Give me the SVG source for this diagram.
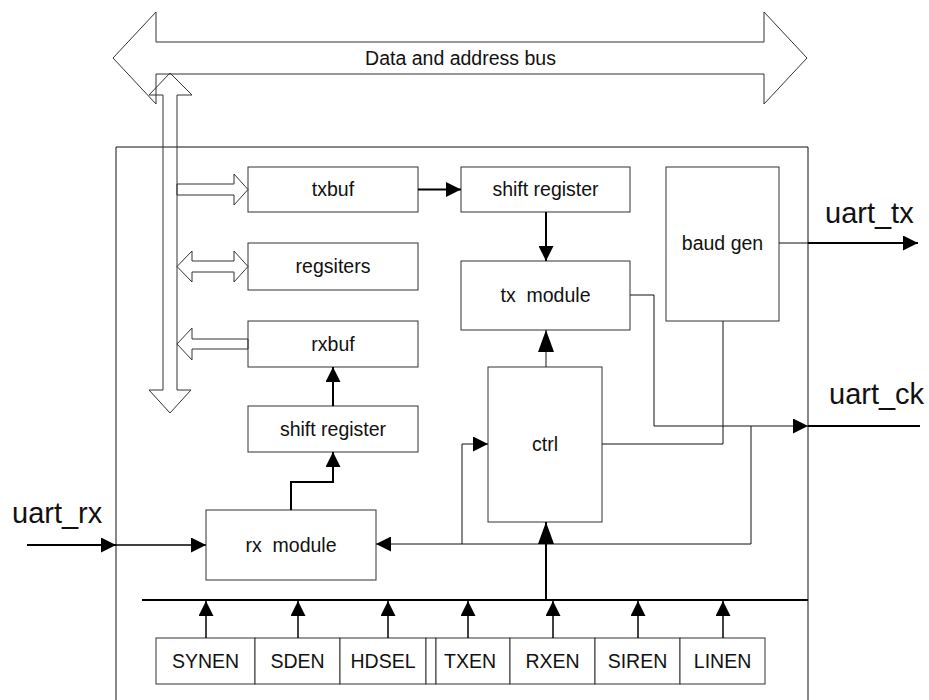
<svg xmlns="http://www.w3.org/2000/svg" width="929" height="700" viewBox="0 0 929 700">
<style>
  .box { fill: #fff; stroke: #333; stroke-width: 1; }
  .lbl { font-family: "Liberation Sans", Arial, sans-serif; font-size: 19.5px; fill: #111; text-anchor: middle; }
  .big { font-family: "Liberation Sans", Arial, sans-serif; font-size: 29px; fill: #111; }
  .hollow { fill: none; stroke: #333; stroke-width: 1; }
  .thin { fill: none; stroke: #111; stroke-width: 1; }
  .mid { fill: none; stroke: #000; stroke-width: 1.5; }
  .thick { fill: none; stroke: #000; stroke-width: 2; }
</style>
<defs>
  <marker id="ah" markerUnits="userSpaceOnUse" markerWidth="15" markerHeight="15" refX="15" refY="7.5" orient="auto" viewBox="0 0 15 15">
    <path d="M0,0 L15,7.5 L0,15 z" fill="#000"/>
  </marker>
  <marker id="ahL" markerUnits="userSpaceOnUse" markerWidth="22" markerHeight="16" refX="22" refY="8" orient="auto" viewBox="0 0 22 16">
    <path d="M0,0 L22,8 L0,16 z" fill="#000"/>
  </marker>
</defs>
<rect x="0" y="0" width="929" height="700" fill="#fff"/>

<!-- Main enclosure -->
<g id="uart">
  <path class="thin" d="M116,710 V147 H808 V710" stroke="#333"/>
</g>

<!-- Data and address bus -->
<g id="bus">
  <polygon class="hollow" points="113,58 156,12 156,42 764,42 764,12 807,58 764,104 764,74 156,74 156,104"/>
  <text class="lbl" x="460.5" y="64.5">Data and address bus</text>
</g>

<!-- Vertical internal bus -->
<g id="ibus">
  <polygon class="hollow" points="170,73 192,95 177,95 177,390 191,390 170,413 149,390 163,390 163,95 149,95"/>
</g>

<g id="txbuf">
  <rect class="box" x="248" y="167" width="170" height="45"/>
  <text class="lbl" x="333" y="196">txbuf</text>
</g>
<g id="regsiters">
  <rect class="box" x="248" y="243" width="170" height="47"/>
  <text class="lbl" x="333" y="273">regsiters</text>
</g>
<g id="rxbuf">
  <rect class="box" x="248" y="321" width="170" height="46"/>
  <text class="lbl" x="333" y="351">rxbuf</text>
</g>
<g id="shift_rx">
  <rect class="box" x="248" y="406" width="170" height="46"/>
  <text class="lbl" x="333" y="436">shift register</text>
</g>
<g id="rx_module">
  <rect class="box" x="206" y="510" width="170" height="70"/>
  <text class="lbl" x="291" y="552" xml:space="preserve">rx  module</text>
</g>
<g id="shift_tx">
  <rect class="box" x="461" y="167" width="169" height="45"/>
  <text class="lbl" x="545.5" y="196">shift register</text>
</g>
<g id="tx_module">
  <rect class="box" x="461" y="261" width="169" height="69"/>
  <text class="lbl" x="545.5" y="302" xml:space="preserve">tx  module</text>
</g>
<g id="baud_gen">
  <rect class="box" x="666" y="167" width="113" height="154"/>
  <text class="lbl" x="722.5" y="250">baud gen</text>
</g>
<g id="ctrl">
  <rect class="box" x="488" y="367" width="114" height="155"/>
  <text class="lbl" x="545" y="451">ctrl</text>
</g>

<g id="reg_SYNEN"><rect class="box" x="156" y="638" width="99" height="46"/><text class="lbl" x="205.5" y="668">SYNEN</text></g>
<g id="reg_SDEN"><rect class="box" x="255" y="638" width="85" height="46"/><text class="lbl" x="297.5" y="668">SDEN</text></g>
<g id="reg_HDSEL"><rect class="box" x="340" y="638" width="86" height="46"/><text class="lbl" x="383" y="668">HDSEL</text></g>
<g id="reg_gap"><rect class="box" x="426" y="638" width="10" height="46"/></g>
<g id="reg_TXEN"><rect class="box" x="436" y="638" width="74" height="46"/><text class="lbl" x="470" y="668">TXEN</text></g>
<g id="reg_RXEN"><rect class="box" x="510" y="638" width="85" height="46"/><text class="lbl" x="552.5" y="668">RXEN</text></g>
<g id="reg_SIREN"><rect class="box" x="595" y="638" width="85" height="46"/><text class="lbl" x="637.5" y="668">SIREN</text></g>
<g id="reg_LINEN"><rect class="box" x="680" y="638" width="85" height="46"/><text class="lbl" x="722.5" y="668">LINEN</text></g>

<g id="labels">
  <text class="big" x="12" y="523">uart_rx</text>
  <text class="big" x="825" y="223">uart_tx</text>
  <text class="big" x="829" y="404">uart_ck</text>
</g>

<g id="connectors">
  <!-- hollow bus arrows -->
  <polygon class="hollow" fill="#fff" points="177,184 234,184 234,174 248,189.5 234,205 234,195 177,195"/>
  <polygon class="hollow" fill="#fff" points="177,266.5 192,251 192,261 234,261 234,251 248,266.5 234,282 234,272 192,272 192,282"/>
  <polygon class="hollow" fill="#fff" points="248,339 192,339 192,328 177,344 192,360 192,349 248,349"/>

  <!-- data path -->
  <path class="thick" d="M418,189.5 H461" marker-end="url(#ah)"/>
  <path class="thick" d="M546,212 V261" marker-end="url(#ah)"/>
  <path class="thin" d="M546,367 V330" marker-end="url(#ahL)"/>
  <path class="thick" d="M333,406 V367" marker-end="url(#ah)"/>
  <path class="thick" d="M291,510 V482 H333 V452" marker-end="url(#ah)"/>

  <!-- uart_rx -->
  <path class="thick" d="M27,545 H116" marker-end="url(#ah)"/>
  <path class="mid" d="M116,545 H206" marker-end="url(#ah)"/>

  <!-- uart_tx -->
  <path class="thin" d="M779,243 H808"/>
  <path class="thick" d="M808,243 H918" marker-end="url(#ah)"/>

  <!-- tx module to uart_ck -->
  <path class="thin" d="M630,295 H654 V426 H808" marker-end="url(#ah)"/>
  <path class="thick" d="M808,426 H920"/>

  <!-- baud gen / ctrl -->
  <path class="thin" d="M602,444 H723 V321"/>

  <!-- clock feedback to rx module and ctrl -->
  <path class="thin" d="M751,426 V544 H376" marker-end="url(#ah)"/>
  <path class="thin" d="M462,544 V444 H488" marker-end="url(#ah)"/>

  <!-- control bus -->
  <path class="thick" d="M142,600 H808"/>
  <path class="thick" d="M546,600 V522" marker-end="url(#ahL)"/>
  <path class="mid" d="M206,638 V601" marker-end="url(#ah)"/>
  <path class="mid" d="M298,638 V601" marker-end="url(#ah)"/>
  <path class="mid" d="M388,638 V601" marker-end="url(#ah)"/>
  <path class="mid" d="M468,638 V601" marker-end="url(#ah)"/>
  <path class="mid" d="M553,638 V601" marker-end="url(#ah)"/>
  <path class="mid" d="M638,638 V601" marker-end="url(#ah)"/>
  <path class="mid" d="M723,638 V601" marker-end="url(#ah)"/>
</g>
</svg>
